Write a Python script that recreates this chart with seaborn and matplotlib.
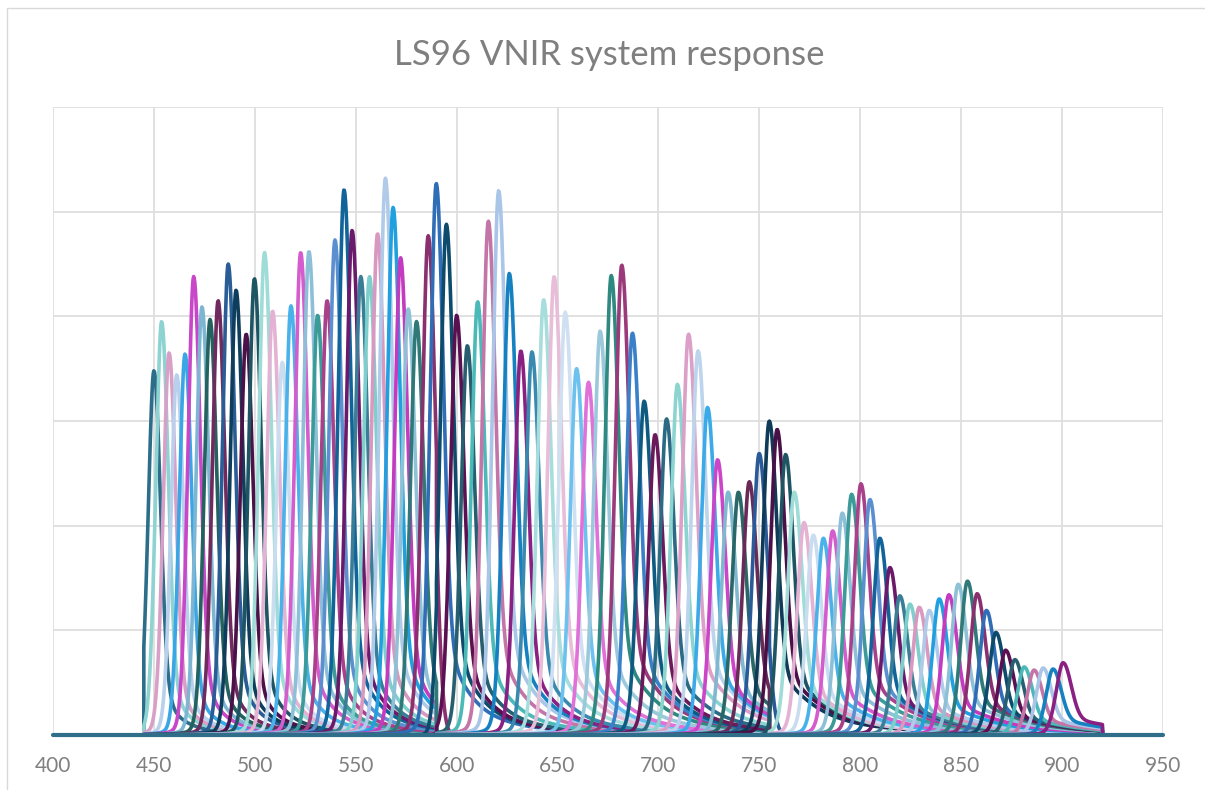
import numpy as np
import pandas as pd
import matplotlib
matplotlib.use("Agg")
import matplotlib.pyplot as plt
import seaborn as sns
from matplotlib.patches import Rectangle

# ==========================
# Data
# ==========================
# band centre wavelengths (nm)
centres = [
    450.0, 453.8, 457.5, 461.3, 465.4, 469.7, 473.8, 477.8, 481.8, 486.8,
    490.7, 495.7, 499.8, 504.8, 508.8, 513.6, 517.9, 522.7, 526.8, 531.1,
    535.8, 539.7, 544.2, 548.2, 552.5, 556.8, 560.8, 564.7, 568.5, 572.2,
    576.0, 580.1, 585.9, 589.9, 594.9, 600.0, 605.3, 610.4, 615.7, 620.8,
    626.1, 631.8, 637.3, 643.1, 648.3, 653.8, 659.4, 665.3, 671.1, 676.6,
    681.8, 687.1, 692.9, 698.3, 704.0, 709.4, 714.9, 719.6, 724.3, 729.3,
    734.5, 739.6, 745.0, 749.9, 754.9, 758.8, 763.0, 767.3, 772.1, 776.7,
    781.7, 786.3, 791.1, 795.7, 800.3, 804.8, 809.7, 814.7, 819.6, 824.6,
    829.2, 834.2, 839.1, 843.9, 848.5, 853.1, 857.9, 862.5, 867.2, 872.0,
    876.6, 881.2, 886.1, 890.6, 895.5, 900.5,
]
# peak response of each band (arbitrary units)
peaks = [
    34.8, 39.5, 36.5, 34.4, 36.4, 43.8, 40.9, 39.7, 41.5, 45.0,
    42.5, 38.3, 43.6, 46.1, 40.5, 35.6, 41.0, 46.1, 46.2, 40.1,
    41.5, 47.3, 52.1, 48.2, 43.8, 43.8, 47.9, 53.2, 50.4, 45.6,
    40.7, 39.5, 47.7, 52.7, 48.8, 40.1, 37.2, 41.4, 49.1, 52.0,
    44.1, 36.7, 36.6, 41.6, 43.8, 40.4, 35.0, 33.7, 38.6, 43.9,
    44.9, 38.4, 31.9, 28.7, 30.2, 33.5, 38.3, 36.7, 31.3, 26.3,
    23.2, 23.2, 24.2, 26.9, 30.0, 29.2, 26.8, 23.2, 20.3, 19.1,
    18.8, 19.5, 21.2, 23.0, 24.0, 22.5, 18.8, 16.0, 13.3, 12.5,
    12.2, 11.9, 13.0, 13.4, 14.4, 14.7, 13.5, 11.9, 9.8, 8.1,
    7.2, 6.5, 6.2, 6.4, 6.3, 6.9,
]
# detector segments (nm)
seg_edges = [445, 590, 755, 920]

x_ticks = [400, 450, 500, 550, 600, 650, 700, 750, 800, 850, 900, 950]

# ==========================
# Series colours
# ==========================
groups = [
    ["#2c6e8a", "#8dd3d1", "#d8a0c6", "#b8d0ec", "#3ba6e6", "#c846c8"],
    ["#7db6d2", "#24625f", "#702a5e", "#2a5c96", "#0f3e5c", "#4b1249"],
    ["#1e5563", "#9fdcd8", "#e4b2d2", "#cadcf0", "#4ab2ea", "#d55ccd"],
    ["#8dc0d8", "#3b9b98", "#a8408a", "#5b8fd0", "#106499", "#6b1a6b"],
    ["#3a7d96", "#7ecfcc", "#d898c0", "#b0cbe9", "#21a0e0", "#c43bbf"],
    ["#8ec1d6", "#2f7a78", "#8a306f", "#2f6db6", "#0d4a6b", "#5b1151"],
    ["#285f70", "#4cb9b9", "#c475a8", "#a9c5e8", "#1681c1", "#8a2182"],
    ["#3a8ab0", "#a7dddc", "#e8bdd8", "#cfe0f2", "#6cc1ee", "#e071d8"],
    ["#9cc8dc", "#2e8a80", "#9a3a7a", "#3a80c8", "#0f5a80", "#6a1a5a"],
    ["#2a6a84", "#8cd4d0", "#dca0c8", "#bcd4ec", "#3aaae8", "#cc44c8"],
    ["#80b8d0", "#2a6868", "#6a2a58", "#2a5a98", "#0f3a58", "#4a1048"],
]
groups = groups + groups[2:7]
colors = [c for g in groups for c in g][:len(centres)]


# ==========================
# Band line shape
# ==========================
def band_shape(x, c, own):
    frac = (c - 450) / 450
    s_l = 3.0 + 0.6 * frac
    s_r = 3.2 + 0.8 * frac
    a = 0.15 + 0.07 * frac
    g_l = 2.5 + 1.0 * frac
    g_r = 9 + 18 * frac
    d = x - c
    core = np.where(d < 0, np.exp(-0.5 * (d / s_l) ** 2), np.exp(-0.5 * (d / s_r) ** 2))
    tail = np.where(d < 0, 1 / (1 + (d / g_l) ** 2), 1 / (1 + (d / g_r) ** 2))
    return (1 - a) * core + (a * tail if own else 0)


seg_x = []
for lo, hi in zip(seg_edges[:-1], seg_edges[1:]):
    seg_x.append(np.linspace(lo, hi, 500))

frames = []
for i, (c, h) in enumerate(zip(centres, peaks)):
    xs = [np.array([seg_edges[0]])]
    ys = [np.array([0.0])]
    for k, xx in enumerate(seg_x):
        lo, hi = seg_edges[k], seg_edges[k + 1]
        own = (lo - 4) <= c <= (hi + 4)
        xs.append(xx)
        ys.append(h * band_shape(xx, c, own))
    xs.append(np.array([seg_edges[-1]]))
    ys.append(np.array([0.0]))
    frames.append(pd.DataFrame({
        'wl': np.concatenate(xs),
        'resp': np.concatenate(ys),
        'band': f"B{i + 1:02d}",
    }))
df = pd.concat(frames, ignore_index=True)
band_order = [f"B{i + 1:02d}" for i in range(len(centres))]

# ==========================
# Plot
# ==========================
sns.set_style("white")
plt.rcParams['font.family'] = ['Lato', 'DejaVu Sans']

fig = plt.figure(figsize=(12.05, 7.9), dpi=100)
ax = fig.add_axes([53 / 1205, 1 - 735 / 790, 1110 / 1205, 628 / 790])

sns.lineplot(
    data=df, x='wl', y='resp', hue='band', hue_order=band_order,
    palette=colors, estimator=None, sort=False, legend=False,
    lw=2.6, ax=ax
)

base = pd.DataFrame({'wl': [400, 950], 'resp': [0, 0]})
sns.lineplot(data=base, x='wl', y='resp', color='#2e6e88', lw=3.0,
             estimator=None, sort=False, ax=ax)

for ln in ax.lines:
    ln.set_clip_on(False)
ax.lines[-1].set_zorder(5)

ax.set_xlim(400, 950)
ax.set_ylim(0, 60)
ax.set_xticks(x_ticks)
ax.set_yticks(range(0, 61, 10))
ax.set_yticklabels([])
ax.set_xlabel("")
ax.set_ylabel("")
ax.grid(True, color='#dedede', lw=1.3)
ax.set_axisbelow(True)
for sp in ax.spines.values():
    sp.set_visible(False)
ax.tick_params(axis='both', length=0)
ax.tick_params(axis='x', pad=15, labelsize=15, labelcolor='#808080')

fig.text(0.506, 1 - 55 / 790, "LS96 VNIR system response",
         ha='center', va='center', fontsize=25, color='#7f7f7f')

fig.patches.append(Rectangle((7 / 1205, -0.05), 1.1, 1.05 - 8 / 790,
                             transform=fig.transFigure, fill=False,
                             edgecolor='#d9d9d9', lw=1.0))

fig.savefig("out.png", dpi=100)
